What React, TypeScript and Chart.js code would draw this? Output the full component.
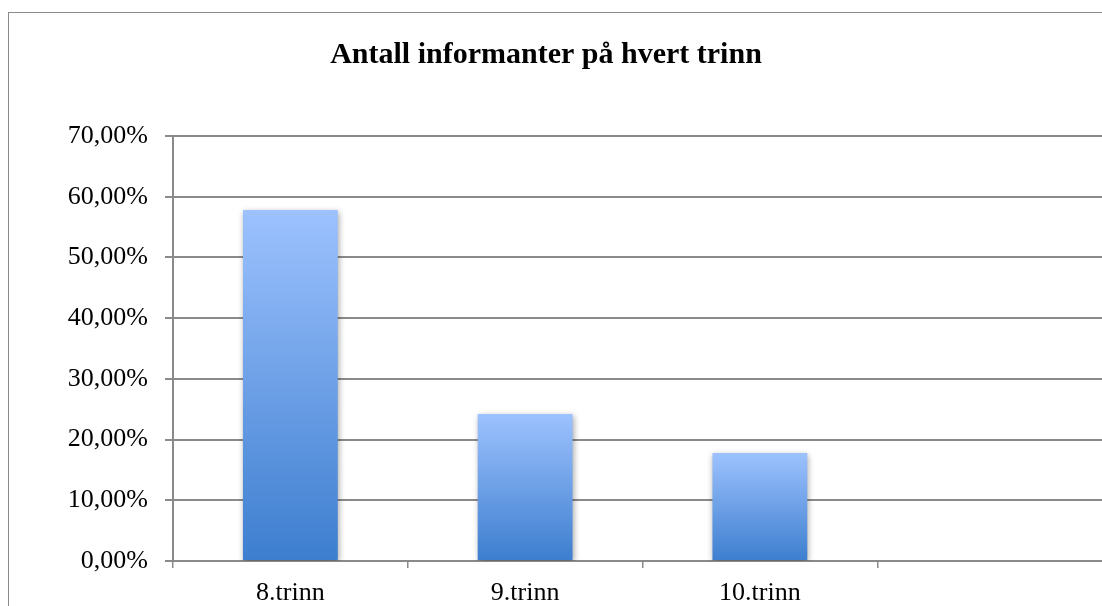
import React, { useEffect, useRef } from "react";
import { Chart, registerables } from "chart.js";

Chart.register(...registerables);

const TITLE = "Antall informanter på hvert trinn";
const categories = ["8.trinn", "9.trinn", "10.trinn", ""];
const values: (number | null)[] = [57.8, 24.2, 17.8, null];
const yMin = 0;
const yMax = 70;
const yStep = 10;

const FONT = '"Liberation Serif", "Times New Roman", serif';
const GRID = "#8a8a8a";

const titlePlugin = {
  id: "frameTitle",
  afterDraw(chart: any) {
    const ctx = chart.ctx;
    ctx.save();
    ctx.font = `bold 30px ${FONT}`;
    ctx.fillStyle = "#000";
    ctx.textAlign = "center";
    ctx.textBaseline = "alphabetic";
    ctx.fillText(TITLE, 537, 50);
    ctx.restore();
  },
};

const shadowPlugin = {
  id: "barShadow",
  beforeDatasetsDraw(chart: any) {
    const ctx = chart.ctx;
    ctx.save();
    ctx.shadowColor = "rgba(0,0,0,0.35)";
    ctx.shadowBlur = 6;
    ctx.shadowOffsetX = 1;
    ctx.shadowOffsetY = 2;
  },
  afterDatasetsDraw(chart: any) {
    chart.ctx.restore();
  },
};

export default function App() {
  const ref = useRef<HTMLCanvasElement | null>(null);

  useEffect(() => {
    if (!ref.current) return;
    const chart = new Chart(ref.current, {
      type: "bar",
      data: {
        labels: categories,
        datasets: [
          {
            data: values,
            backgroundColor: (c: any) => {
              const ch = c.chart;
              const ys = ch.scales && ch.scales.y;
              if (!ch.chartArea || !ys || c.raw == null) return "#6a9be6";
              const top = ys.getPixelForValue(c.raw);
              const base = ys.getPixelForValue(0);
              const g = ch.ctx.createLinearGradient(0, top, 0, base);
              g.addColorStop(0, "#9dc2fe");
              g.addColorStop(1, "#3d7ecf");
              return g;
            },
            borderWidth: 0,
            categoryPercentage: 1,
            barPercentage: 0.404,
          },
        ],
      },
      options: {
        responsive: false,
        animation: false,
        layout: { padding: { top: 123, left: 0, right: 0, bottom: 0 } },
        plugins: {
          legend: { display: false },
          tooltip: { enabled: false },
          title: { display: false },
        },
        scales: {
          x: {
            offset: true,
            grid: {
              offset: true,
              drawOnChartArea: false,
              drawTicks: true,
              tickLength: 7,
              color: GRID,
              lineWidth: 1.5,
            },
            border: { display: true, color: GRID, width: 2 },
            ticks: {
              color: "#000",
              font: { family: FONT, size: 26 },
              padding: 10,
            },
            afterFit: (s: any) => {
              s.height = 52;
            },
          },
          y: {
            min: yMin,
            max: yMax,
            ticks: {
              stepSize: yStep,
              color: "#000",
              font: { family: FONT, size: 26 },
              padding: 17,
              callback: (v: any) => Number(v).toFixed(2).replace(".", ",") + "%",
            },
            grid: {
              color: GRID,
              lineWidth: 2,
              drawTicks: true,
              tickLength: 8,
            },
            border: { display: true, color: GRID, width: 2 },
            afterFit: (s: any) => {
              s.width = 164;
            },
          },
        },
      },
      plugins: [titlePlugin, shadowPlugin],
    });
    return () => chart.destroy();
  }, []);

  return (
    <div
      style={{
        position: "fixed",
        left: 0,
        top: 0,
        width: 1102,
        height: 606,
        overflow: "hidden",
        background: "#fff",
      }}
    >
      <div
        style={{
          position: "absolute",
          left: 8,
          top: 12,
          width: 1120,
          height: 620,
          border: "1px solid #8a8a8a",
          boxSizing: "border-box",
        }}
      />
      <canvas
        ref={ref}
        width={1103}
        height={600}
        style={{ position: "absolute", left: 9, top: 13, width: 1103, height: 600 }}
      />
    </div>
  );
}
